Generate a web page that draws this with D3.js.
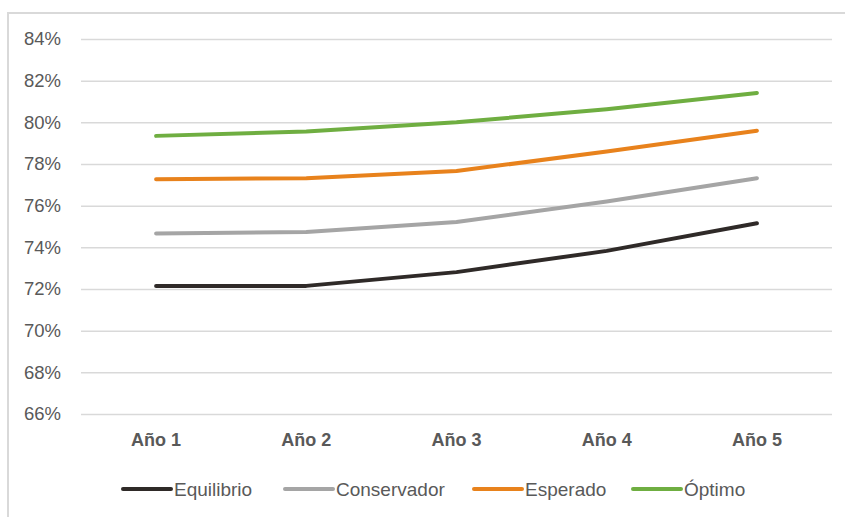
<!DOCTYPE html>
<html><head><meta charset="utf-8">
<script src="https://cdn.jsdelivr.net/npm/d3@7"></script>
<style>body{margin:0;background:#fff}svg{display:block}text{font-family:"Liberation Sans",Arial,sans-serif}</style>
</head><body><svg id="c" width="845" height="517"></svg>
<script>
const categories = ["Año 1","Año 2","Año 3","Año 4","Año 5"];
const seriesNames = ["Equilibrio","Conservador","Esperado","Óptimo"];
const equilibrio = [0.7215,0.7215,0.7281,0.7383,0.7516];
const conservador = [0.7466,0.7474,0.7522,0.7620,0.7732];
const esperado = [0.7727,0.7732,0.7766,0.7860,0.7960];
const optimo = [0.7935,0.7956,0.8000,0.8063,0.8141];
const yTicks = [0.66,0.68,0.70,0.72,0.74,0.76,0.78,0.80,0.82,0.84];
const colors = ["#2f2a28","#a5a5a5","#e8821c","#6fae41"];

const svg = d3.select("#c");
const W=845,H=517;
const plot={left:81,right:832,top:39,bottom:414};
svg.append("rect").attr("x",8).attr("y",13).attr("width",W).attr("height",H)
  .attr("fill","#fff").attr("stroke","#d9d9d9").attr("stroke-width",2);

const x=d3.scaleBand().domain(categories).range([plot.left,plot.right]);
const y=d3.scaleLinear().domain([0.66,0.84]).range([plot.bottom,plot.top]);

const yAxis=svg.append("g").attr("transform",`translate(${plot.left},0)`)
  .call(d3.axisLeft(y).tickValues(yTicks).tickFormat(d3.format(".0%")).tickSize(-(plot.right-plot.left)).tickPadding(20));
yAxis.select(".domain").remove();
yAxis.selectAll(".tick line").attr("stroke","#d9d9d9").attr("stroke-width",1.5);
yAxis.selectAll(".tick text").attr("fill","#595959").attr("font-size",18.5);

const xAxis=svg.append("g").attr("transform",`translate(0,${plot.bottom})`)
  .call(d3.axisBottom(x).tickSize(0).tickPadding(19));
xAxis.select(".domain").remove();
xAxis.selectAll(".tick text").attr("fill","#595959").attr("font-size",18).attr("font-weight","bold");

const data=[equilibrio,conservador,esperado,optimo];
const line=d3.line().x((d,i)=>x(categories[i])+x.bandwidth()/2).y(d=>y(d));
data.forEach((s,k)=>{
  svg.append("path").attr("d",line(s)).attr("fill","none").attr("stroke",colors[k])
    .attr("stroke-width",4).attr("stroke-linecap","round").attr("stroke-linejoin","round");
});

const legendX=[123,285,474,633];
const lg=svg.append("g");
seriesNames.forEach((n,k)=>{
  lg.append("line").attr("x1",legendX[k]).attr("x2",legendX[k]+48).attr("y1",489).attr("y2",489)
    .attr("stroke",colors[k]).attr("stroke-width",4).attr("stroke-linecap","round");
  lg.append("text").attr("x",legendX[k]+51).attr("y",496).attr("fill","#595959").attr("font-size",19).text(n);
});
</script></body></html>
